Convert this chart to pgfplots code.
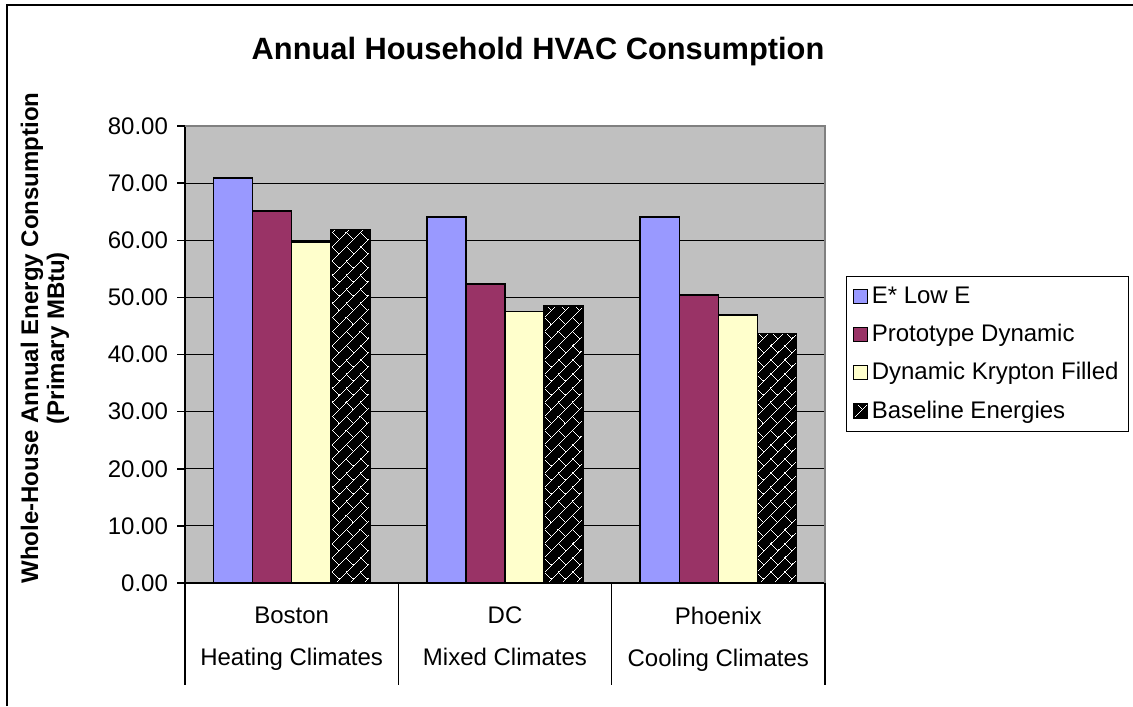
\documentclass[border=0pt]{standalone}
\usepackage{pgfplots}
\pgfplotsset{compat=1.18}
\usepackage{fontspec}
\setmainfont{Liberation Sans}
\usetikzlibrary{patterns,patterns.meta}
\definecolor{plotgray}{HTML}{C0C0C0}
\definecolor{sLow}{HTML}{9999FF}
\definecolor{sProto}{HTML}{993366}
\definecolor{sKryp}{HTML}{FFFFCC}
\tikzdeclarepattern{
  name=diagbricks,
  type=uncolored,
  bounding box={(-0.5pt,-0.5pt) and (10.5pt,10.5pt)},
  tile size={(10pt,10pt)},
  tile transformation={rotate=45},
  code={
    \tikzset{line width=0.6pt}
    \draw (-0.5pt,0) -- (10.5pt,0);
    \draw (-0.5pt,5pt) -- (10.5pt,5pt);
    \draw (0,0) -- (0,5pt);
    \draw (5pt,5pt) -- (5pt,10pt);
  }
}
\pgfplotstableread{
x lowe proto kryp base
0 70.9 65.1 59.7 61.9
1 64.1 52.3 47.5 48.5
2 64.1 50.4 46.9 43.7
}\datatable
\begin{document}
\begin{tikzpicture}
\path[use as bounding box] (0,0) rectangle (566.5pt,353pt);
\draw[line width=1pt] (3.5pt,0) -- (3.5pt,350.5pt) -- (566.5pt,350.5pt);
\node[font=\bfseries\fontsize{15.4}{18}\selectfont] at (269pt,327pt) {Annual Household HVAC Consumption};
\node[rotate=90, align=center, font=\bfseries\fontsize{12}{13}\selectfont] at (22.5pt,184pt) {Whole-House Annual Energy Consumption\\(Primary MBtu)};
\begin{axis}[
  at={(92.5pt,61.5pt)}, anchor=south west,
  scale only axis, width=320pt, height=228.5pt,
  xmin=-0.5, xmax=2.5, ymin=0, ymax=80,
  ybar=0pt, bar width=0.183,
  every axis plot/.append style={draw=black, line width=0.8pt,
    legend image code/.code={\draw[##1, line width=0.6pt] (0pt,-3.5pt) rectangle (7pt,3.5pt);}},
  axis background/.style={fill=plotgray},
  axis x line*=bottom, axis y line*=left,
  axis line style={black, line width=0.75pt},
  xtick={0,1,2},
  xticklabels={Boston\\[7pt]Heating Climates, DC\\[7pt]Mixed Climates, Phoenix\\[7pt]Cooling Climates},
  xticklabel style={align=center, font=\fontsize{12}{14}\selectfont, yshift=-4.5pt},
  xtick style={draw=none},
  ytick={0,10,...,80},
  tick align=outside, major tick length=4pt,
  ytick style={black, line width=0.75pt},
  yticklabel style={font=\fontsize{12}{14}\selectfont, xshift=-1pt},
  /pgf/number format/assume math mode=true,
  /pgf/number format/.cd, fixed, fixed zerofill, precision=2, /pgfplots/.cd,
  ymajorgrids, grid style={black, line width=0.6pt},
  clip=false,
  legend style={at={(rel axis cs:1.0328,0.6718)}, anchor=north west,
    draw=black, line width=0.6pt, font=\fontsize{12}{14}\selectfont,
    row sep=5pt, inner xsep=3pt, inner ysep=3pt},
  legend cell align=left,
]
\addplot[fill=sLow] table[x=x,y=lowe] {\datatable};
\addplot[fill=sProto] table[x=x,y=proto] {\datatable};
\addplot[fill=sKryp] table[x=x,y=kryp] {\datatable};
\addplot[fill=black, postaction={pattern=diagbricks, pattern color=white}] table[x=x,y=base] {\datatable};
\legend{E* Low E, Prototype Dynamic, Dynamic Krypton Filled, Baseline Energies}
\draw[gray, line width=0.75pt] (rel axis cs:0,1) -- (rel axis cs:1,1) -- (rel axis cs:1,0);
\draw[black, line width=0.75pt] (axis cs:-0.5,0) -- ([yshift=-51pt]axis cs:-0.5,0);
\draw[black, line width=0.75pt] (axis cs:0.5,0) -- ([yshift=-51pt]axis cs:0.5,0);
\draw[black, line width=0.75pt] (axis cs:1.5,0) -- ([yshift=-51pt]axis cs:1.5,0);
\draw[black, line width=0.75pt] (axis cs:2.5,0) -- ([yshift=-51pt]axis cs:2.5,0);
\end{axis}
\end{tikzpicture}
\end{document}
